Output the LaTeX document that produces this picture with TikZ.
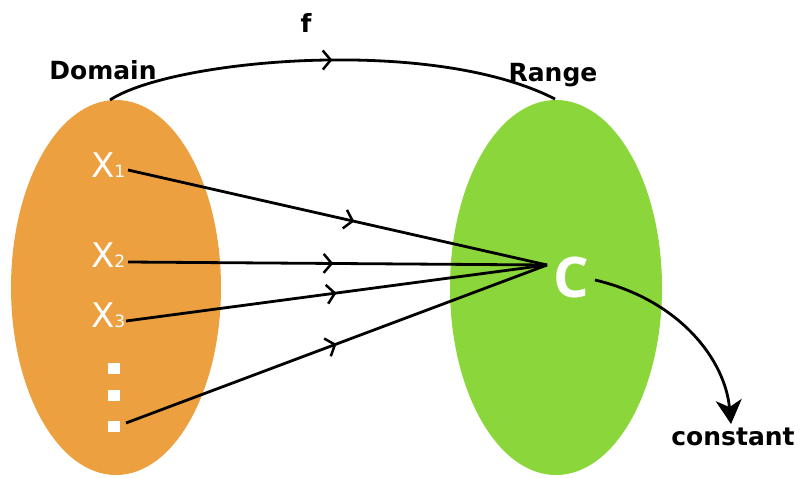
\documentclass[tikz,border=0pt]{standalone}
\usepackage{fontspec}
\setmainfont{DejaVu Sans}
\newfontfamily\cfont{Open Sans}
\usetikzlibrary{arrows.meta,decorations.markings}
\definecolor{domorange}{RGB}{237,160,64}
\definecolor{rangegreen}{RGB}{139,214,58}
\tikzset{
  conn/.style={line width=2.8pt,black,postaction={decorate},
    decoration={markings,mark=at position #1 with {\arrow{Straight Barb[length=8pt,width=19pt,line width=2.5pt]}}}},
  conn/.default=0.5,
  lbl/.style={font=\bfseries\fontsize{25}{25}\selectfont,anchor=base,inner sep=0pt},
  xlbl/.style={font=\fontsize{34}{34}\selectfont,text=white,anchor=base west,inner sep=0pt},
  sq/.style={fill=white,minimum width=12pt,minimum height=11pt,inner sep=0pt},
}
\newcommand{\sbs}[1]{{\fontsize{17}{17}\selectfont #1}}
\begin{document}
\begin{tikzpicture}[x=1pt,y=-1pt]
\useasboundingbox (0,0) rectangle (800,477);
% sets
\fill[domorange] (116,287.5) ellipse [x radius=105, y radius=187.5];
\fill[rangegreen] (556,287.5) ellipse [x radius=106, y radius=187.5];
% labels
\node[lbl] (dom) at (103,79) {Domain};
\node[lbl] (rng) at (553,81) {Range};
\node[lbl] (f) at (306,32) {f};
\node[lbl] (const) at (733,445) {constant};
% elements
\node[xlbl] (x1) at (91,177) {X\sbs{1}};
\node[xlbl] (x2) at (91,267) {X\sbs{2}};
\node[xlbl] (x3) at (91,327) {X\sbs{3}};
\node[sq] (d1) at (113.5,368) {};
\node[sq] (d2) at (113.5,395) {};
\node[sq] (d3) at (113.5,426) {};
\node[font=\cfont\bfseries\fontsize{56}{56}\selectfont,text=white,anchor=base,inner sep=0pt] (c) at (571,297) {C};
% connector end points
\coordinate (s1) at (128,170);
\coordinate (s2) at (128,262);
\coordinate (s3) at (126,321);
\coordinate (s4) at (126,423);
\coordinate (cv) at (547,265);
\coordinate (dtop) at (110,100);
\coordinate (rtop) at (555,99);
\coordinate (cs) at (595,280);
\coordinate (ce) at (731,424);
% arc f
\draw[conn=0.5] (dtop) .. controls (170,60) and (430,35) .. (rtop);
% mappings
\draw[conn=0.54] (s1) -- (cv);
\draw[conn=0.49] (s2) -- (cv);
\draw[conn=0.5] (s3) -- (cv);
\draw[conn=0.5] (s4) -- (cv);
% constant arrow
\draw[line width=2.8pt,-{Stealth[length=24pt,width=26pt,inset=7pt]}] (cs) .. controls (680,300) and (725,360) .. (ce);
\end{tikzpicture}
\end{document}
